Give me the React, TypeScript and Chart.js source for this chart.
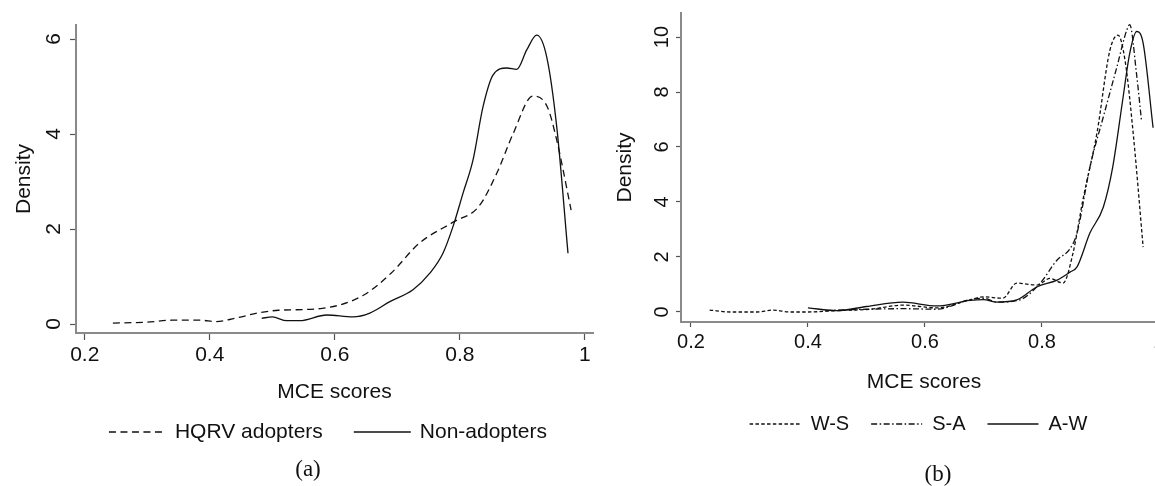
import React, { useEffect, useRef } from "react";
import { Chart, registerables } from "chart.js";

Chart.register(...registerables);

// ---------- Data ----------
// Panel (a)
const hqrvX = [0.245, 0.3, 0.34, 0.385, 0.41, 0.44, 0.48, 0.51, 0.58, 0.645, 0.69, 0.735, 0.79, 0.83, 0.86, 0.885, 0.917, 0.94, 0.955, 0.978];
const hqrvY = [0.02, 0.04, 0.08, 0.08, 0.05, 0.12, 0.24, 0.29, 0.33, 0.6, 1.07, 1.7, 2.15, 2.47, 3.2, 4.0, 4.8, 4.57, 3.87, 2.4];
const nonX = [0.483, 0.5, 0.523, 0.544, 0.587, 0.629, 0.656, 0.688, 0.725, 0.752, 0.773, 0.789, 0.805, 0.821, 0.837, 0.853, 0.875, 0.891, 0.907, 0.923, 0.939, 0.955, 0.973];
const nonY = [0.12, 0.15, 0.07, 0.07, 0.19, 0.15, 0.23, 0.47, 0.72, 1.07, 1.49, 2.05, 2.75, 3.45, 4.57, 5.24, 5.39, 5.36, 5.77, 6.08, 5.62, 4.15, 1.49];
const seriesA = ["HQRV adopters", "Non-adopters"];
const xTicksA = [0.2, 0.4, 0.6, 0.8, 1];
const yTicksA = [0, 2, 4, 6];

// Panel (b)
const wsX = [0.232, 0.267, 0.313, 0.34, 0.369, 0.4, 0.45, 0.506, 0.562, 0.62, 0.677, 0.7, 0.733, 0.757, 0.791, 0.814, 0.836, 0.853, 0.87, 0.894, 0.916, 0.93, 0.942, 0.956, 0.973];
const wsY = [0.07, 0.0, 0.0, 0.07, 0.0, 0.0, 0.05, 0.1, 0.25, 0.15, 0.44, 0.55, 0.5, 1.05, 0.98, 1.22, 1.05, 2.13, 4.07, 6.5, 9.5, 10.07, 9.16, 6.5, 2.36];
const saX = [0.43, 0.5, 0.562, 0.62, 0.677, 0.7, 0.723, 0.762, 0.797, 0.826, 0.848, 0.86, 0.882, 0.905, 0.928, 0.945, 0.95, 0.962, 0.97];
const saY = [0.05, 0.1, 0.12, 0.1, 0.45, 0.5, 0.36, 0.44, 1.05, 1.89, 2.3, 2.87, 5.27, 7.1, 8.9, 10.25, 10.45, 8.6, 7.0];
const awX = [0.4, 0.45, 0.5, 0.562, 0.62, 0.677, 0.7, 0.723, 0.757, 0.791, 0.826, 0.848, 0.86, 0.882, 0.905, 0.921, 0.938, 0.95, 0.962, 0.973, 0.99];
const awY = [0.15, 0.05, 0.2, 0.36, 0.22, 0.42, 0.45, 0.36, 0.44, 0.91, 1.16, 1.45, 1.64, 2.87, 3.82, 5.27, 7.7, 9.4, 10.2, 9.78, 6.7];
const seriesB = ["W-S", "S-A", "A-W"];
const xTicksB = [0.2, 0.4, 0.6, 0.8, 1];
const yTicksB = [0, 2, 4, 6, 8, 10];

const SANS = '"Liberation Sans", Arial, sans-serif';
const SERIF = '"Liberation Serif", "Times New Roman", serif';
const INK = "#111111";

const zip = (xs: number[], ys: number[]) => xs.map((x, i) => ({ x, y: ys[i] }));

// Stata-like legend (line samples + labels) and panel caption
const lineLegendPlugin = {
  id: "lineLegend",
  afterDraw(chart: any, _args: any, opts: any) {
    const ctx = chart.ctx as CanvasRenderingContext2D;
    ctx.save();
    ctx.font = `${opts.fontSize}px ${SANS}`;
    ctx.textBaseline = "middle";
    ctx.textAlign = "left";
    const items = chart.data.datasets.map((ds: any) => ({
      label: ds.label as string,
      dash: (ds.borderDash || []) as number[],
      color: ds.borderColor as string,
      width: ds.borderWidth as number,
    }));
    const widths = items.map((it: any) => opts.lineLen + opts.textGap + ctx.measureText(it.label).width);
    const total = widths.reduce((a: number, b: number) => a + b, 0) + opts.itemGap * (items.length - 1);
    let x = opts.centerX - total / 2;
    const y = opts.y;
    items.forEach((it: any, i: number) => {
      ctx.beginPath();
      ctx.setLineDash(it.dash);
      ctx.strokeStyle = it.color;
      ctx.lineWidth = it.width;
      ctx.moveTo(x, y);
      ctx.lineTo(x + opts.lineLen, y);
      ctx.stroke();
      ctx.setLineDash([]);
      ctx.fillStyle = INK;
      ctx.fillText(it.label, x + opts.lineLen + opts.textGap, y);
      x += widths[i] + opts.itemGap;
    });
    ctx.font = `${opts.captionSize}px ${SERIF}`;
    ctx.textAlign = "center";
    ctx.fillStyle = INK;
    ctx.fillText(opts.caption, opts.captionX, opts.captionY);
    ctx.restore();
  },
};

type PanelCfg = {
  width: number;
  height: number;
  datasets: any[];
  xMin: number;
  xMax: number;
  yMin: number;
  yMax: number;
  xTicks: number[];
  yTicks: number[];
  yAxisWidth: number;
  xAxisHeight: number;
  padding: { left: number; right: number; top: number; bottom: number };
  tickFont: number;
  titleFont: number;
  yTickLen: number;
  xTickLen: number;
  yTickPad: number;
  xTickPad: number;
  yTitlePad: number;
  xTitlePad: number;
  legend: any;
};

function buildConfig(p: PanelCfg): any {
  return {
    type: "line",
    data: { datasets: p.datasets },
    plugins: [lineLegendPlugin],
    options: {
      responsive: false,
      animation: false,
      layout: { padding: p.padding },
      elements: { point: { radius: 0, hoverRadius: 0 } },
      plugins: {
        legend: { display: false },
        tooltip: { enabled: false },
        title: { display: false },
        lineLegend: p.legend,
      },
      scales: {
        x: {
          type: "linear",
          min: p.xMin,
          max: p.xMax,
          afterBuildTicks: (s: any) => {
            s.ticks = p.xTicks.map((v) => ({ value: v }));
          },
          afterFit: (s: any) => {
            s.height = p.xAxisHeight;
            s.paddingLeft = 0;
            s.paddingRight = 0;
          },
          grid: {
            display: true,
            drawOnChartArea: false,
            drawTicks: true,
            tickLength: p.xTickLen,
            tickColor: "#555555",
            tickWidth: 1.2,
          },
          border: { display: true, color: "#8a8a8a", width: 2 },
          ticks: {
            color: INK,
            font: { family: SANS, size: p.tickFont },
            padding: p.xTickPad,
            maxRotation: 0,
            minRotation: 0,
            callback: (v: any) => String(v),
          },
          title: {
            display: true,
            text: "MCE scores",
            color: INK,
            font: { family: SANS, size: p.titleFont },
            padding: { top: 0, bottom: p.xTitlePad },
          },
        },
        y: {
          type: "linear",
          min: p.yMin,
          max: p.yMax,
          afterBuildTicks: (s: any) => {
            s.ticks = p.yTicks.map((v) => ({ value: v }));
          },
          afterFit: (s: any) => {
            s.width = p.yAxisWidth;
            s.paddingTop = 0;
            s.paddingBottom = 0;
          },
          grid: {
            display: true,
            drawOnChartArea: false,
            drawTicks: true,
            tickLength: p.yTickLen,
            tickColor: "#555555",
            tickWidth: 1.2,
          },
          border: { display: true, color: "#8a8a8a", width: 2 },
          ticks: {
            color: INK,
            font: { family: SANS, size: p.tickFont },
            padding: p.yTickPad,
            minRotation: 90,
            maxRotation: 90,
            crossAlign: "center",
            callback: (v: any) => String(v),
          },
          title: {
            display: true,
            text: "Density",
            color: INK,
            font: { family: SANS, size: p.titleFont },
            padding: { top: p.yTitlePad, bottom: 0 },
          },
        },
      },
    },
  };
}

function Panel({ left, cfg }: { left: number; cfg: PanelCfg }) {
  const ref = useRef<HTMLCanvasElement | null>(null);
  useEffect(() => {
    if (!ref.current) return;
    const chart = new Chart(ref.current, buildConfig(cfg));
    return () => chart.destroy();
  }, []);
  return (
    <div style={{ position: "absolute", left, top: 0, width: cfg.width, height: cfg.height }}>
      <canvas ref={ref} width={cfg.width} height={cfg.height} style={{ width: cfg.width, height: cfg.height, display: "block" }} />
    </div>
  );
}

const lineBase = { pointRadius: 0, borderColor: "#111111", borderWidth: 1.3, fill: false, cubicInterpolationMode: "monotone" };

const panelA: PanelCfg = {
  width: 600,
  height: 486,
  datasets: [
    { ...lineBase, label: seriesA[0], data: zip(hqrvX, hqrvY), borderDash: [7, 4.5] },
    { ...lineBase, label: seriesA[1], data: zip(nonX, nonY), borderDash: [] },
  ],
  xMin: 0.186,
  xMax: 1.013,
  yMin: -0.189,
  yMax: 6.295,
  xTicks: xTicksA,
  yTicks: yTicksA,
  yAxisWidth: 76,
  xAxisHeight: 80,
  padding: { left: 0, right: 7, top: 25, bottom: 73 },
  tickFont: 21,
  titleFont: 21,
  yTickLen: 6,
  xTickLen: 7,
  yTickPad: 10,
  xTickPad: 3,
  yTitlePad: 12,
  xTitlePad: 8,
  legend: { fontSize: 21, lineLen: 57, textGap: 9, itemGap: 31, centerX: 328, y: 432, caption: "(a)", captionSize: 23, captionX: 308, captionY: 470 },
};

const panelB: PanelCfg = {
  width: 610,
  height: 486,
  datasets: [
    { ...lineBase, label: seriesB[0], data: zip(wsX, wsY), borderDash: [3.5, 2.3] },
    { ...lineBase, label: seriesB[1], data: zip(saX, saY), borderDash: [6, 2.5, 1.5, 2.5] },
    { ...lineBase, label: seriesB[2], data: zip(awX, awY), borderDash: [] },
  ],
  xMin: 0.183,
  xMax: 1.0138,
  yMin: -0.364,
  yMax: 10.873,
  xTicks: xTicksB,
  yTicks: yTicksB,
  yAxisWidth: 91,
  xAxisHeight: 80,
  padding: { left: 0, right: 33, top: 13, bottom: 84 },
  tickFont: 20,
  titleFont: 21,
  yTickLen: 5,
  xTickLen: 5,
  yTickPad: 2,
  xTickPad: 3,
  yTitlePad: 23,
  xTitlePad: 7,
  legend: { fontSize: 20, lineLen: 51, textGap: 10, itemGap: 22, centerX: 328.5, y: 424, caption: "(b)", captionSize: 23, captionX: 348, captionY: 475 },
};

export default function App() {
  return (
    <div style={{ position: "absolute", left: 0, top: 0, width: 1155, height: 486, overflow: "hidden", background: "#ffffff" }}>
      <Panel left={0} cfg={panelA} />
      <Panel left={590} cfg={panelB} />
    </div>
  );
}
